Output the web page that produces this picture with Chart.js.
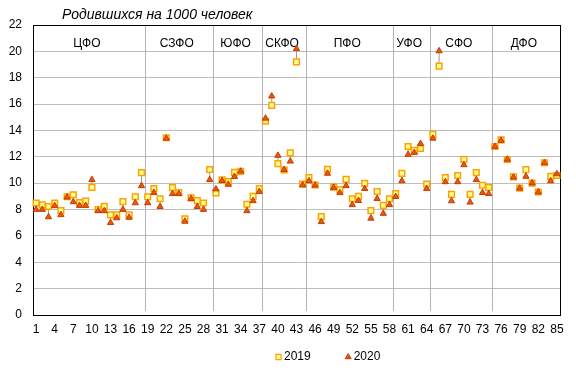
<!DOCTYPE html>
<html lang="ru">
<head>
<meta charset="utf-8">
<title>Родившихся на 1000 человек</title>
<script src="https://cdn.jsdelivr.net/npm/chart.js@4.4.1/dist/chart.umd.min.js"></script>
<style>
  html, body { margin: 0; padding: 0; background: #fff; }
  #wrap { width: 576px; height: 376px; }
</style>
</head>
<body>
<div id="wrap"><canvas id="birthChart" width="576" height="376"></canvas></div>
<script>
// Regions are numbered 1..85 along the x axis
const regions = Array.from({ length: 85 }, (_, i) => String(i + 1));

// Births per 1000 people
const births2019 = [
    8.5, 8.36, 8.23, 8.5, 7.92, 8.97, 9.12, 8.53, 8.64, 9.68,
    8.0, 8.25, 7.6, 7.6, 8.6, 7.6, 8.97, 10.8, 8.97, 9.6,
    8.82, 13.45, 9.66, 9.28, 7.3, 8.88, 8.68, 8.5, 11.04, 9.27,
    10.25, 10.12, 10.82, 10.9, 8.4, 9.0, 9.6, 14.7, 15.9, 11.48,
    11.0, 12.3, 19.2, 9.93, 10.42, 9.86, 7.46, 11.05, 9.7, 9.5,
    10.29, 8.82, 9.0, 9.98, 7.92, 9.37, 8.32, 8.82, 9.21, 10.74,
    12.78, 12.5, 12.63, 9.93, 13.7, 18.88, 10.42, 9.15, 10.58, 11.8,
    9.15, 10.8, 9.84, 9.67, 12.78, 13.29, 11.8, 10.48, 9.62, 11.03,
    10.0, 9.33, 11.55, 10.52, 10.58
];
const births2020 = [
    8.0, 8.0, 7.44, 8.28, 7.6, 8.94, 8.58, 8.3, 8.3, 10.26,
    7.9, 7.9, 7.0, 7.36, 8.0, 7.4, 8.5, 9.8, 8.5, 9.28,
    8.22, 13.4, 9.2, 9.2, 7.1, 8.82, 8.22, 8.0, 10.26, 9.55,
    10.19, 9.9, 10.5, 10.9, 7.9, 8.66, 9.36, 14.92, 16.6, 12.1,
    11.02, 11.66, 20.2, 9.86, 10.17, 9.84, 7.07, 10.74, 9.67, 9.27,
    9.8, 8.36, 8.67, 9.58, 7.33, 8.82, 7.7, 8.36, 8.98, 10.17,
    12.17, 12.32, 13.0, 9.59, 13.4, 20.03, 10.1, 8.65, 10.1, 11.39,
    8.55, 10.26, 9.28, 9.2, 12.78, 13.24, 11.8, 10.45, 9.61, 10.51,
    10.0, 9.32, 11.54, 10.17, 10.7
];

// Federal districts and how many regions each one has, in order
const districtNames = ['ЦФО', 'СЗФО', 'ЮФО', 'СКФО', 'ПФО', 'УФО', 'СФО', 'ДФО'];
const districtSizes = [18, 11, 8, 7, 14, 6, 10, 11];

const chartTitle = 'Родившихся на 1000 человек';
const FONT = 'Arial, "Liberation Sans", sans-serif';

// Separators, district names, high-low lines, frame, title and legend
const districtPlugin = {
    id: 'districtPlugin',
    beforeDatasetsDraw(chart) {
        const { ctx, chartArea: a, scales: { x, y } } = chart;
        ctx.save();

        // gray lines joining the two years for each region
        ctx.strokeStyle = '#9a9a9a';
        ctx.lineWidth = 1;
        births2019.forEach((v, i) => {
            const px = x.getPixelForValue(i);
            ctx.beginPath();
            ctx.moveTo(px, y.getPixelForValue(v));
            ctx.lineTo(px, y.getPixelForValue(births2020[i]));
            ctx.stroke();
        });

        // district separators and names
        let start = 0;
        ctx.font = '12px ' + FONT;
        ctx.textAlign = 'center';
        ctx.textBaseline = 'middle';
        districtSizes.forEach((n, k) => {
            const end = start + n;
            if (k < districtSizes.length - 1) {
                const px = Math.round(x.getPixelForValue(end - 0.5)) + 0.5;
                ctx.strokeStyle = '#b3b3b3';
                ctx.beginPath();
                ctx.moveTo(px, a.top);
                ctx.lineTo(px, a.bottom - 4);
                ctx.stroke();
            }
            ctx.fillStyle = '#000';
            ctx.fillText(districtNames[k], x.getPixelForValue((start + end - 1) / 2) - 2, y.getPixelForValue(20.6));
            start = end;
        });

        // black frame round the plot area
        ctx.strokeStyle = '#000';
        ctx.lineWidth = 1;
        ctx.strokeRect(Math.round(a.left) + 0.5, Math.round(a.top) + 0.5,
            Math.round(a.right - a.left), Math.round(a.bottom - a.top));
        ctx.restore();
    },
    afterDraw(chart) {
        const { ctx } = chart;
        ctx.save();
        ctx.font = 'italic 14px ' + FONT;
        ctx.fillStyle = '#000';
        ctx.textAlign = 'left';
        ctx.textBaseline = 'middle';
        ctx.fillText(chartTitle, 62, 15);

        // legend: marker + year label for each series
        ctx.font = '12px ' + FONT;
        let lx = 275;
        const ly = 357;
        chart.data.datasets.forEach(ds => {
            const isRect = ds.pointStyle === 'rect';
            ctx.fillStyle = ds.pointBackgroundColor;
            ctx.strokeStyle = ds.pointBorderColor;
            ctx.lineWidth = isRect ? 1.2 : 1;
            Chart.helpers.drawPoint(ctx, {
                pointStyle: ds.pointStyle,
                radius: isRect ? 3.6 : 3.4,
                borderWidth: ctx.lineWidth
            }, lx + 3.5, ly);
            ctx.fillStyle = '#000';
            ctx.fillText(ds.label, lx + 9, ly);
            lx += 9 + ctx.measureText(ds.label).width + 34;
        });
        ctx.restore();
    }
};

const birthChart = new Chart(document.getElementById('birthChart'), {
    type: 'line',
    data: {
        labels: regions,
        datasets: [{
            label: '2019',
            data: births2019,
            showLine: false,
            order: 1,
            pointStyle: 'rect',
            pointRadius: 4,
            pointBorderWidth: 1.5,
            pointBackgroundColor: '#ffff99',
            pointBorderColor: '#ffa200',
            backgroundColor: '#ffff99',
            borderColor: '#ffa200'
        }, {
            label: '2020',
            data: births2020,
            showLine: false,
            order: 0,
            pointStyle: 'triangle',
            pointRadius: 3.6,
            pointBorderWidth: 1,
            pointBackgroundColor: '#e8590c',
            pointBorderColor: '#c43c00',
            backgroundColor: '#e8590c',
            borderColor: '#c43c00'
        }]
    },
    options: {
        responsive: false,
        animation: false,
        events: [],
        layout: { padding: { top: 25, right: 16, bottom: 35, left: 0 } },
        scales: {
            x: {
                type: 'category',
                offset: true,
                grid: { display: false, drawTicks: false },
                border: { display: false },
                ticks: {
                    autoSkip: false,
                    maxRotation: 0,
                    padding: 7,
                    color: '#000',
                    font: { size: 12, family: FONT },
                    callback: (val, idx) => (idx % 3 === 0 ? regions[idx] : '')
                },
                afterFit(scale) { scale.height = 26; }
            },
            y: {
                min: 0,
                max: 22,
                grid: { color: '#bdbdbd', drawTicks: false },
                border: { display: false },
                ticks: {
                    stepSize: 2,
                    padding: 11,
                    color: '#000',
                    font: { size: 12, family: FONT }
                },
                afterFit(scale) { scale.width = 33; }
            }
        },
        plugins: {
            title: { display: false },
            tooltip: { enabled: false },
            legend: { display: false }
        }
    },
    plugins: [districtPlugin]
});
</script>
</body>
</html>
